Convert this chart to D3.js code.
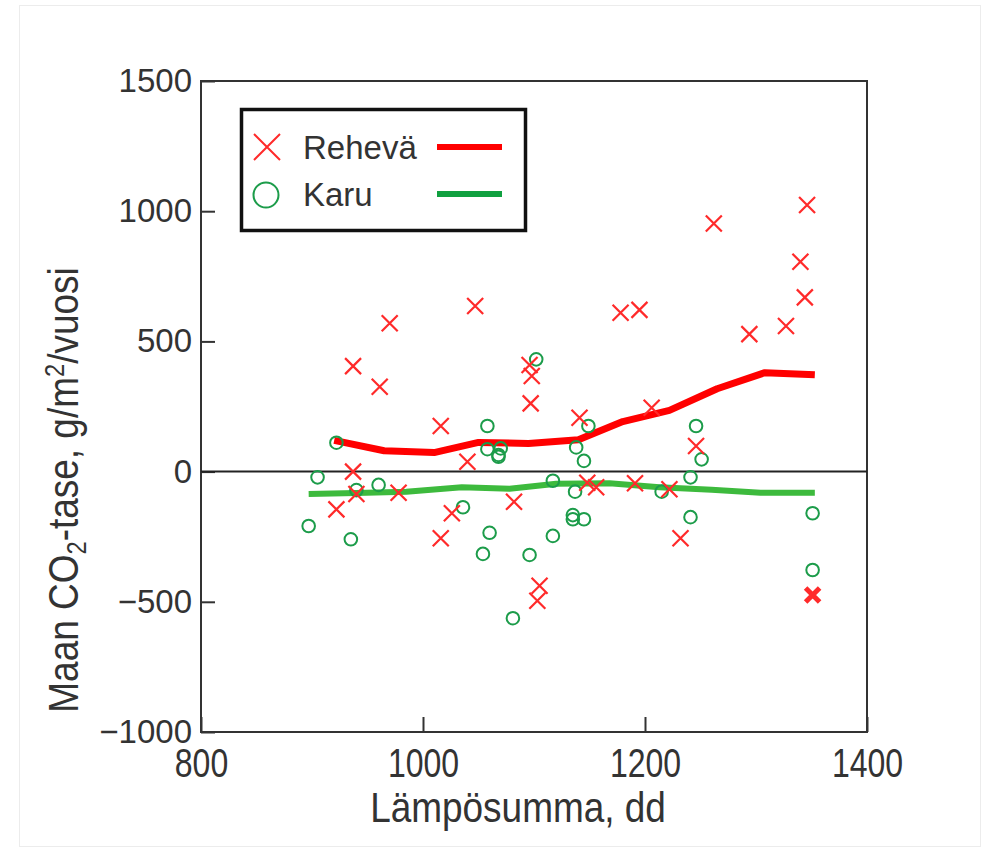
<!DOCTYPE html>
<html>
<head>
<meta charset="utf-8">
<title>Maan CO2-tase</title>
<script src="https://d3js.org/d3.v7.min.js"></script>
<style>
  body { margin: 0; background: #fff; }
</style>
</head>
<body>
<div id="chart"></div>
<script>
// Rehevä (crosses) points
var rehevaX = [937, 961, 970, 1016, 1047, 1040, 937, 940, 978, 922, 1016, 1026, 1082, 1105, 1103,
               1096, 1098, 1097, 1141, 1148, 1156, 1178, 1195, 1191, 1206, 1222, 1232, 1246,
               1262, 1294, 1327, 1340, 1344, 1346];
var rehevaY = [405, 326, 570, 175, 636, 38, 0, -86, -81, -145, -256, -160, -116, -438, -496,
               409, 367, 262, 207, -43, -60, 610, 621, -45, 245, -68, -256, 98,
               953, 528, 559, 806, 669, 1024];
// bold cross at the right edge
var outlierX = [1351];
var outlierY = [-474];

// Karu (circles) points
var karuX = [897, 905, 922, 935, 940, 960, 1036, 1054, 1058, 1058, 1060, 1068, 1070, 1068, 1081,
             1096, 1102, 1117, 1117, 1135, 1135, 1137, 1138, 1145, 1145, 1149, 1215, 1241,
             1241, 1246, 1251, 1351, 1351];
var karuY = [-209, -22, 111, -260, -71, -51, -137, -316, 175, 86, -235, 64, 89, 57, -563,
             -320, 431, -35, -247, -167, -183, -77, 93, -183, 41, 175, -77, -22,
             -175, 175, 47, -160, -378];

// fitted lines
var rehevaLineX = [920, 965, 1010, 1050, 1095, 1140, 1180, 1222, 1265, 1308, 1353];
var rehevaLineY = [120, 80, 73, 112, 108, 122, 192, 235, 318, 380, 372];
var karuLineX = [897, 940, 985, 1035, 1078, 1120, 1168, 1213, 1260, 1304, 1353];
var karuLineY = [-86, -82, -77, -60, -66, -47, -45, -60, -70, -81, -81];

var xTicks = [800, 1000, 1200, 1400];
var yTicks = [-1000, -500, 0, 500, 1000, 1500];
var legendNames = ["Rehevä", "Karu"];

var width = 997, height = 852;
var red = "#ff2a2a", redLine = "#ff0000";
var green = "#1c9c4a", greenLine = "#3dba3d", legendGreen = "#10a040";
var sans = "'Liberation Sans', Arial, sans-serif";
var textColor = "#333";

var svg = d3.select("#chart").append("svg")
    .attr("width", width)
    .attr("height", height);

// faint page frame
svg.append("rect")
    .attr("x", 19.5).attr("y", 5.5)
    .attr("width", 961).attr("height", 841)
    .attr("fill", "none")
    .attr("stroke", "#ececec");

var x = d3.scaleLinear().domain([800, 1400]).range([201, 867]);
var y = d3.scaleLinear().domain([-1000, 1500]).range([732, 81]);

// y axis (ticks pointing inward)
var yAxis = svg.append("g")
    .attr("transform", "translate(" + x(800) + ",0)")
    .call(d3.axisLeft(y).tickValues(yTicks).tickFormat(d3.format("d")).tickSize(-14).tickPadding(9));
yAxis.select(".domain").remove();
yAxis.selectAll("line").attr("stroke", "#333").attr("stroke-width", 2);
yAxis.selectAll("text")
    .style("font-family", sans)
    .style("font-size", "33px")
    .attr("fill", textColor);

// x axis, condensed labels
var xAxis = svg.append("g")
    .attr("transform", "translate(0," + y(-1000) + ")")
    .call(d3.axisBottom(x).tickValues(xTicks).tickFormat(d3.format("d")).tickSize(-15).tickPadding(17));
xAxis.select(".domain").remove();
xAxis.selectAll("line").attr("stroke", "#333").attr("stroke-width", 2);
xAxis.selectAll("text")
    .style("font-family", sans)
    .style("font-size", "40px")
    .attr("transform", "scale(0.8,1)")
    .attr("fill", textColor);

// frame
svg.append("rect")
    .attr("x", x(800)).attr("y", y(1500))
    .attr("width", x(1400) - x(800))
    .attr("height", y(-1000) - y(1500))
    .attr("fill", "none")
    .attr("stroke", "#333")
    .attr("stroke-width", 2);

// zero line
svg.append("line")
    .attr("x1", x(800)).attr("x2", x(1400))
    .attr("y1", y(0)).attr("y2", y(0))
    .attr("stroke", "#222")
    .attr("stroke-width", 2);

// lines
var line = d3.line()
    .x(function (d) { return x(d[0]); })
    .y(function (d) { return y(d[1]); });

svg.append("path")
    .datum(d3.zip(karuLineX, karuLineY))
    .attr("d", line)
    .attr("fill", "none")
    .attr("stroke", greenLine)
    .attr("stroke-width", 6)
    .attr("stroke-linejoin", "round");

svg.append("path")
    .datum(d3.zip(rehevaLineX, rehevaLineY))
    .attr("d", line)
    .attr("fill", "none")
    .attr("stroke", redLine)
    .attr("stroke-width", 7)
    .attr("stroke-linejoin", "round");

// circles
svg.append("g")
    .selectAll("circle")
    .data(d3.zip(karuX, karuY))
    .enter()
    .append("circle")
    .attr("cx", function (d) { return x(d[0]); })
    .attr("cy", function (d) { return y(d[1]); })
    .attr("r", 6.3)
    .attr("fill", "none")
    .attr("stroke", green)
    .attr("stroke-width", 2);

// crosses
function crossPath(s) {
    return "M" + (-s) + "," + (-s) + "L" + s + "," + s + "M" + (-s) + "," + s + "L" + s + "," + (-s);
}

svg.append("g")
    .selectAll("path")
    .data(d3.zip(rehevaX, rehevaY))
    .enter()
    .append("path")
    .attr("transform", function (d) { return "translate(" + x(d[0]) + "," + y(d[1]) + ")"; })
    .attr("d", crossPath(8))
    .attr("stroke", red)
    .attr("stroke-width", 2.2)
    .attr("fill", "none");

svg.append("g")
    .selectAll("path")
    .data(d3.zip(outlierX, outlierY))
    .enter()
    .append("path")
    .attr("transform", function (d) { return "translate(" + x(d[0]) + "," + y(d[1]) + ")"; })
    .attr("d", crossPath(7))
    .attr("stroke", red)
    .attr("stroke-width", 5)
    .attr("fill", "none");

// legend
var legend = svg.append("g");
legend.append("rect")
    .attr("x", 241.5).attr("y", 109.5)
    .attr("width", 284).attr("height", 121)
    .attr("fill", "#fff")
    .attr("stroke", "#111")
    .attr("stroke-width", 3.5);

legend.append("path")
    .attr("transform", "translate(267,147)")
    .attr("d", crossPath(13))
    .attr("stroke", red)
    .attr("stroke-width", 2)
    .attr("fill", "none");
legend.append("circle")
    .attr("cx", 266).attr("cy", 195).attr("r", 12.5)
    .attr("fill", "none")
    .attr("stroke", green)
    .attr("stroke-width", 2);

legend.selectAll("text")
    .data(legendNames)
    .enter()
    .append("text")
    .attr("x", 303)
    .attr("y", function (d, i) { return 159 + i * 47; })
    .style("font-family", sans)
    .style("font-size", "33px")
    .attr("fill", textColor)
    .text(function (d) { return d; });

legend.append("line")
    .attr("x1", 437).attr("x2", 502).attr("y1", 147).attr("y2", 147)
    .attr("stroke", redLine).attr("stroke-width", 6);
legend.append("line")
    .attr("x1", 437).attr("x2", 502).attr("y1", 194).attr("y2", 194)
    .attr("stroke", legendGreen).attr("stroke-width", 6);

// axis titles (condensed)
svg.append("text")
    .attr("transform", "translate(518,822) scale(0.88,1)")
    .attr("text-anchor", "middle")
    .style("font-family", sans)
    .style("font-size", "42px")
    .attr("fill", textColor)
    .text("Lämpösumma, dd");

var yl = svg.append("text")
    .attr("transform", "translate(78,490) rotate(-90) scale(0.88,1)")
    .attr("text-anchor", "middle")
    .style("font-family", sans)
    .style("font-size", "42px")
    .attr("fill", textColor);
yl.append("tspan").text("Maan CO");
yl.append("tspan").attr("dy", 8).style("font-size", "27px").text("2");
yl.append("tspan").attr("dy", -8).text("-tase, g/m");
yl.append("tspan").attr("dy", -14).style("font-size", "27px").text("2");
yl.append("tspan").attr("dy", 14).text("/vuosi");
</script>
</body>
</html>
